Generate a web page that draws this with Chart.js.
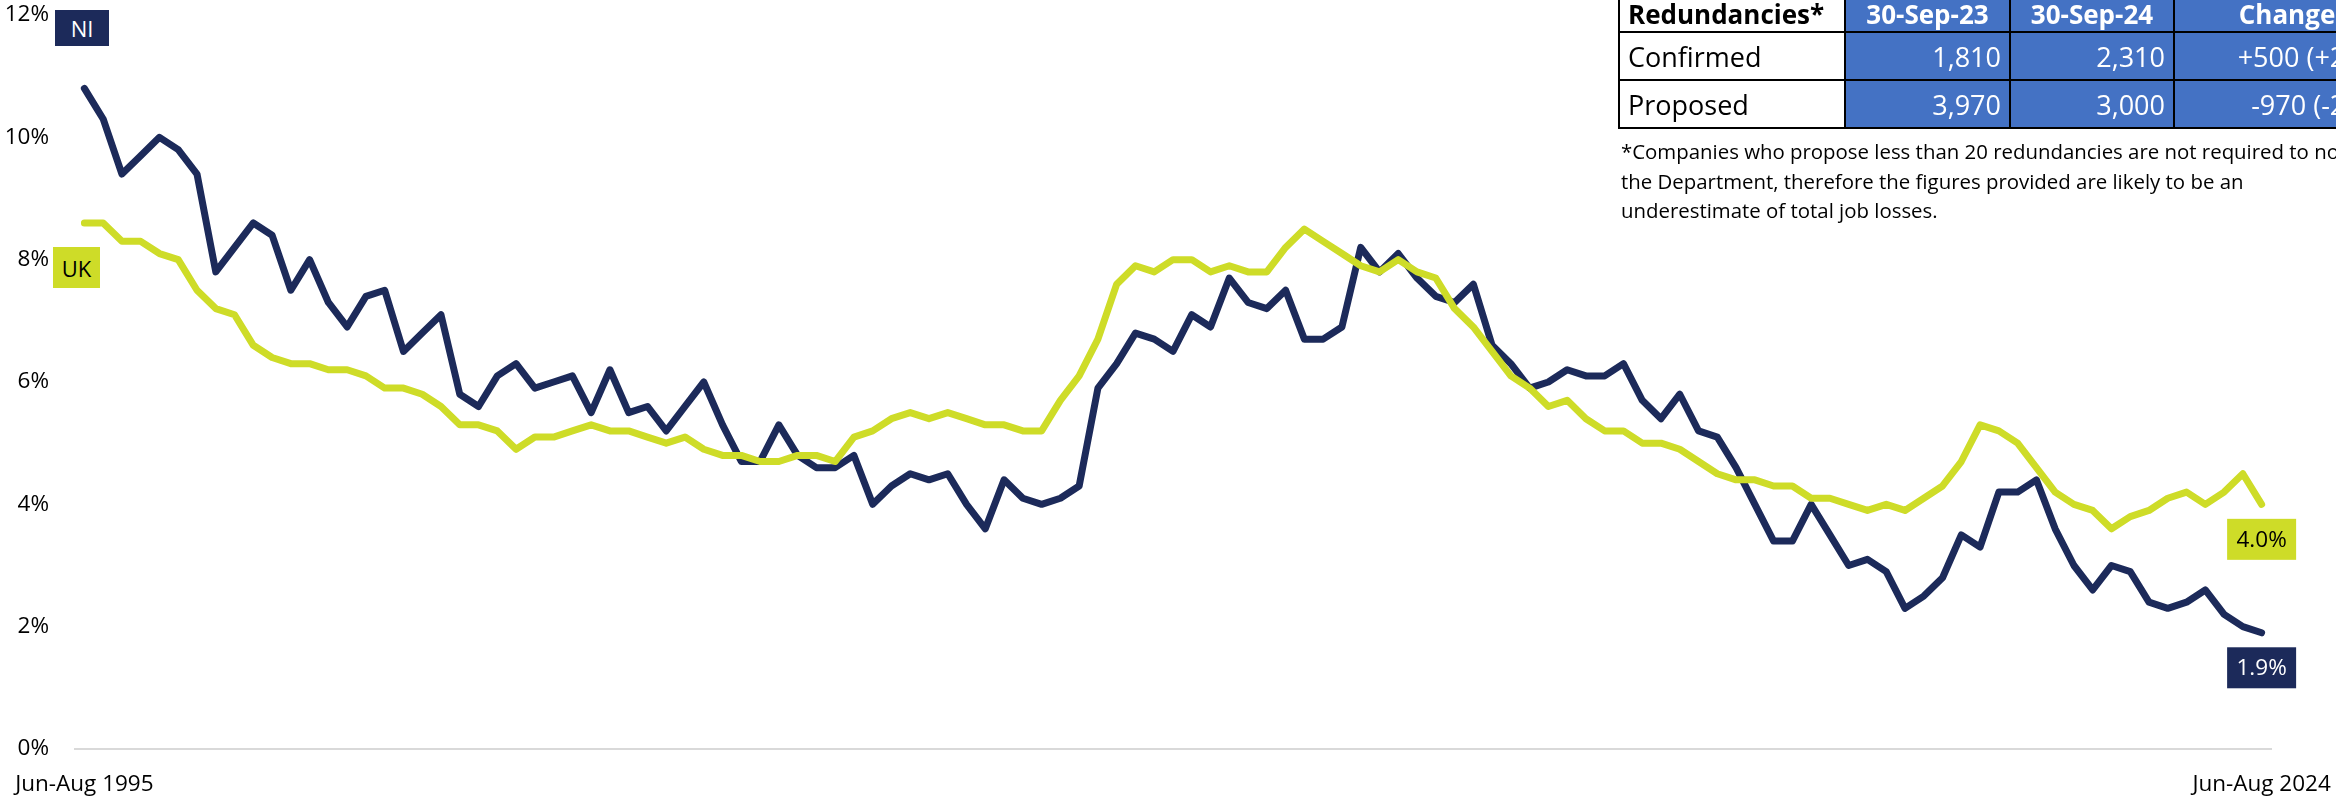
<!DOCTYPE html>
<html>
<head>
<meta charset="utf-8">
<script src="https://cdn.jsdelivr.net/npm/chart.js@4.4.1/dist/chart.umd.min.js"></script>
<style>
  html, body { margin: 0; padding: 0; width: 2336px; height: 797px; overflow: hidden; background: #fff; }
  body { font-family: "Open Sans", sans-serif; color: #000; }
  #wrap { position: relative; width: 2336px; height: 797px; overflow: hidden; }
  #chart { position: absolute; left: 0; top: 0; }
  .tag { position: absolute; font-size: 22px; display: flex; align-items: center; justify-content: center; }
  #tagNI { left: 55px; top: 10px; width: 54px; height: 36px; background: #1c2a5a; color: #fff; }
  #tagUK { left: 53px; top: 247px; width: 47px; height: 41px; background: #cedc28; color: #000; }
  #redund { position: absolute; left: 1618px; top: -6px; width: 781px; border-collapse: collapse; table-layout: fixed; font-size: 27px; }
  #redund td, #redund th { border: 2px solid #000; padding: 0 8px; white-space: nowrap; overflow: hidden; line-height: 1; }
  #redund th { font-weight: bold; font-size: 26px; height: 35px; background: #4472c4; color: #fff; text-align: center; }
  #redund td { height: 46px; background: #4472c4; color: #fff; text-align: right; }
  #redund .lab { background: #fff; color: #000; text-align: left; }
  #note { position: absolute; left: 1621px; top: 137px; font-size: 20.4px; line-height: 29.5px; white-space: nowrap; }
</style>
</head>
<body>
<div id="wrap">
  <canvas id="chart" width="2336" height="797"></canvas>
  <div class="tag" id="tagNI">NI</div>
  <div class="tag" id="tagUK">UK</div>
  <table id="redund"></table>
  <div id="note">*Companies who propose less than 20 redundancies are not required to notify<br>the Department, therefore the figures provided are likely to be an<br>underestimate of total job losses.</div>
</div>
<script>
// quarterly periods, Jun-Aug 1995 .. Jun-Aug 2024
const seasons = ["Jun-Aug", "Sep-Nov", "Dec-Feb", "Mar-May"];
const periods = [];
for (let i = 0; i < 117; i++) {
  periods.push(seasons[i % 4] + " " + (1995 + Math.floor((i + 2) / 4)));
}

// unemployment rate (%)
const niRate = [
  10.8, 10.3, 9.4, 9.7, 10.0, 9.8, 9.4, 7.8, 8.2, 8.6,
  8.4, 7.5, 8.0, 7.3, 6.9, 7.4, 7.5, 6.5, 6.8, 7.1,
  5.8, 5.6, 6.1, 6.3, 5.9, 6.0, 6.1, 5.5, 6.2, 5.5,
  5.6, 5.2, 5.6, 6.0, 5.3, 4.7, 4.7, 5.3, 4.8, 4.6,
  4.6, 4.8, 4.0, 4.3, 4.5, 4.4, 4.5, 4.0, 3.6, 4.4,
  4.1, 4.0, 4.1, 4.3, 5.9, 6.3, 6.8, 6.7, 6.5, 7.1,
  6.9, 7.7, 7.3, 7.2, 7.5, 6.7, 6.7, 6.9, 8.2, 7.8,
  8.1, 7.7, 7.4, 7.3, 7.6, 6.6, 6.3, 5.9, 6.0, 6.2,
  6.1, 6.1, 6.3, 5.7, 5.4, 5.8, 5.2, 5.1, 4.6, 4.0,
  3.4, 3.4, 4.0, 3.5, 3.0, 3.1, 2.9, 2.3, 2.5, 2.8,
  3.5, 3.3, 4.2, 4.2, 4.4, 3.6, 3.0, 2.6, 3.0, 2.9,
  2.4, 2.3, 2.4, 2.6, 2.2, 2.0, 1.9
];
const ukRate = [
  8.6, 8.6, 8.3, 8.3, 8.1, 8.0, 7.5, 7.2, 7.1, 6.6,
  6.4, 6.3, 6.3, 6.2, 6.2, 6.1, 5.9, 5.9, 5.8, 5.6,
  5.3, 5.3, 5.2, 4.9, 5.1, 5.1, 5.2, 5.3, 5.2, 5.2,
  5.1, 5.0, 5.1, 4.9, 4.8, 4.8, 4.7, 4.7, 4.8, 4.8,
  4.7, 5.1, 5.2, 5.4, 5.5, 5.4, 5.5, 5.4, 5.3, 5.3,
  5.2, 5.2, 5.7, 6.1, 6.7, 7.6, 7.9, 7.8, 8.0, 8.0,
  7.8, 7.9, 7.8, 7.8, 8.2, 8.5, 8.3, 8.1, 7.9, 7.8,
  8.0, 7.8, 7.7, 7.2, 6.9, 6.5, 6.1, 5.9, 5.6, 5.7,
  5.4, 5.2, 5.2, 5.0, 5.0, 4.9, 4.7, 4.5, 4.4, 4.4,
  4.3, 4.3, 4.1, 4.1, 4.0, 3.9, 4.0, 3.9, 4.1, 4.3,
  4.7, 5.3, 5.2, 5.0, 4.6, 4.2, 4.0, 3.9, 3.6, 3.8,
  3.9, 4.1, 4.2, 4.0, 4.2, 4.5, 4.0
];

// redundancies table
const tableHeads = ["Redundancies*", "30-Sep-23", "30-Sep-24", "Change"];
const tableRows = ["Confirmed", "Proposed"];
const sep23 = [1810, 3970];
const sep24 = [2310, 3000];

const NAVY = "#1c2a5a";
const LIME = "#cedc28";
const FONT = "'Open Sans', sans-serif";

// build the table
(function () {
  const fmt = n => n.toLocaleString("en-GB");
  const colW = [226, 165, 164, 226];
  let html = "<colgroup>" + colW.map(w => `<col style="width:${w}px">`).join("") + "</colgroup>";
  html += "<tr>" + tableHeads.map((h, i) => `<th class="${i === 0 ? "lab" : ""}">${h}</th>`).join("") + "</tr>";
  tableRows.forEach((r, i) => {
    const diff = sep24[i] - sep23[i];
    const pct = Math.round(diff / sep23[i] * 100);
    const sign = diff > 0 ? "+" : "-";
    const change = `${sign}${fmt(Math.abs(diff))} (${sign}${Math.abs(pct)}%)`;
    html += `<tr><td class="lab">${r}</td><td>${fmt(sep23[i])}</td><td>${fmt(sep24[i])}</td><td>${change}</td></tr>`;
  });
  document.getElementById("redund").innerHTML = html;
})();

// last-value boxes under the line ends
const endLabels = {
  id: "endLabels",
  afterDatasetsDraw(chart) {
    const ctx = chart.ctx;
    chart.data.datasets.forEach((ds, i) => {
      const meta = chart.getDatasetMeta(i);
      const pt = meta.data[meta.data.length - 1];
      const txt = ds.data[ds.data.length - 1].toFixed(1) + "%";
      const w = 69, h = 41;
      const cx = pt.x, cy = pt.y + 35;
      ctx.save();
      ctx.fillStyle = ds.borderColor;
      ctx.fillRect(cx - w / 2, cy - h / 2, w, h);
      ctx.fillStyle = ds.textColor;
      ctx.font = "22.5px " + FONT;
      ctx.textAlign = "center";
      ctx.textBaseline = "middle";
      ctx.fillText(txt, cx, cy + 1);
      ctx.restore();
    });
  }
};

new Chart(document.getElementById("chart").getContext("2d"), {
  type: "line",
  data: {
    labels: periods,
    datasets: [
      { label: "NI", data: niRate, borderColor: NAVY, textColor: "#fff", order: 1 },
      { label: "UK", data: ukRate, borderColor: LIME, textColor: "#000", order: 0 }
    ]
  },
  options: {
    responsive: false,
    animation: false,
    elements: {
      line: { borderWidth: 7, tension: 0, borderJoinStyle: "round", borderCapStyle: "round", fill: false },
      point: { radius: 0, hoverRadius: 0 }
    },
    layout: { padding: { top: 15, right: 65, bottom: 0, left: 0 } },
    plugins: { legend: { display: false }, tooltip: { enabled: false } },
    scales: {
      x: {
        offset: true,
        grid: { display: false, drawTicks: false },
        border: { display: true, color: "#d9d9d9", width: 2 },
        ticks: {
          autoSkip: false, maxRotation: 0, minRotation: 0, padding: 22,
          color: "#000", font: { family: FONT, size: 22.5 },
          callback: (v, i) => (i === 0 || i === periods.length - 1) ? periods[i] : ""
        },
        afterFit: s => { s.height = 48; s.paddingLeft = 0; s.paddingRight = 0; }
      },
      y: {
        min: 0, max: 12,
        grid: { display: false, drawTicks: false },
        border: { display: false },
        ticks: {
          stepSize: 2, padding: 26,
          color: "#000", font: { family: FONT, size: 22.5 },
          callback: v => v + "%"
        },
        afterFit: s => { s.width = 75; s.paddingTop = 0; s.paddingBottom = 0; }
      }
    }
  },
  plugins: [endLabels]
});
</script>
</body>
</html>
